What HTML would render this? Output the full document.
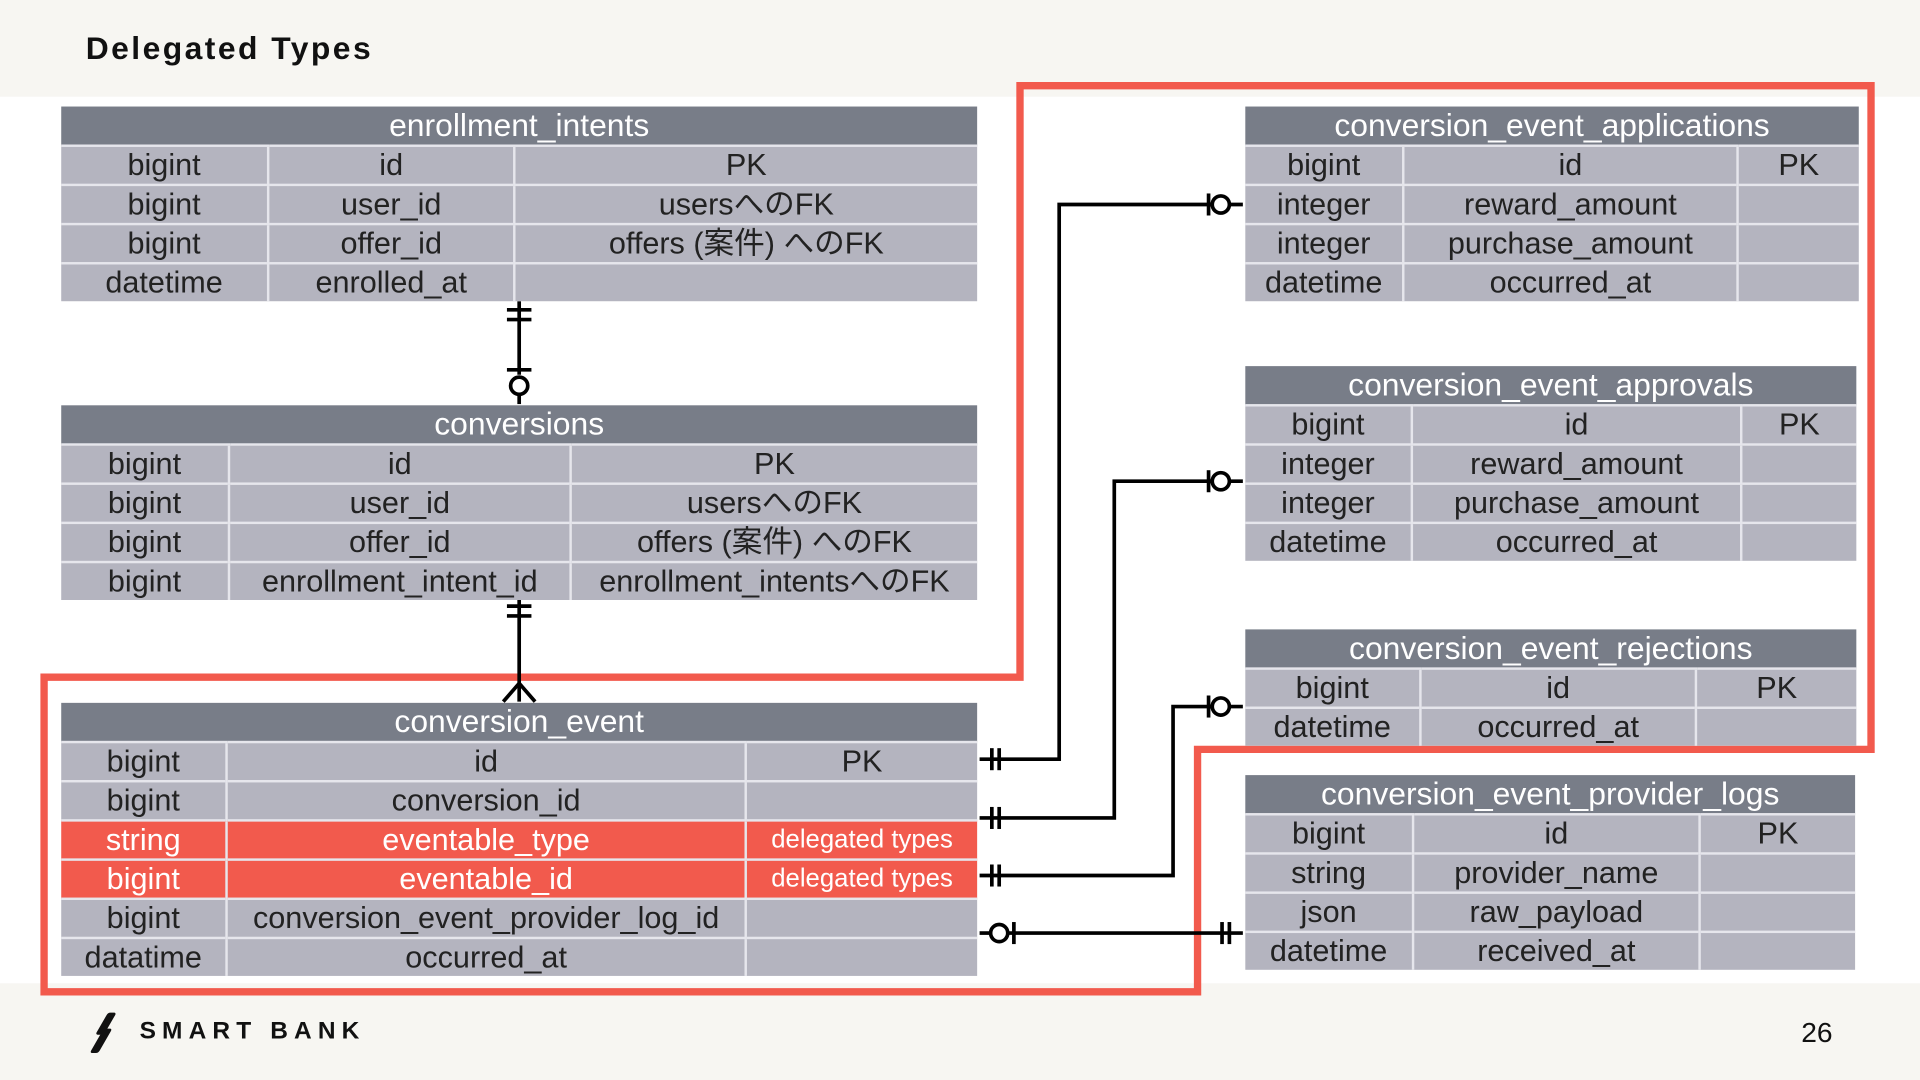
<!DOCTYPE html>
<html><head><meta charset="utf-8"><style>
html,body{margin:0;padding:0;width:1920px;height:1080px;overflow:hidden;background:#fff}
#s{position:absolute;left:0;top:0;width:1568px;height:882px;transform:scale(1.22449);transform-origin:0 0;font-family:"Liberation Sans","Noto Sans CJK JP",sans-serif}
.band{position:absolute;left:0;width:1568px;background:#f7f6f2}
table{position:absolute;border-collapse:collapse;table-layout:fixed;font-size:25px;color:#222}
th{background:#787d88;color:#fff;font-weight:normal;height:31px;padding:0;text-align:center;font-size:26px;line-height:31px;white-space:nowrap}
td{background:#b4b4bf;height:30px;padding:0;text-align:center;border-top:2px solid #e6e6ec;border-left:2px solid #e6e6ec;white-space:nowrap;overflow:visible;line-height:30px}
td:first-child{border-left:none}
tr.r td{background:#f25a4d;color:#fff}
.sm{font-size:21px}
</style></head><body><div id="s">
<div class="band" style="top:0;height:79px"></div>
<div class="band" style="top:803px;height:79px"></div>
<div style="position:absolute;left:70px;top:24px;font-size:26px;letter-spacing:2px;color:#111;font-weight:bold">Delegated Types</div>
<div style="position:absolute;left:1471px;top:830px;font-size:23px;color:#111">26</div>
<div style="position:absolute;left:83px;top:827px;width:7px;height:18px;background:#111;transform:skewX(-30deg);border-radius:2px"></div>
<div style="position:absolute;left:79px;top:840px;width:7px;height:20px;background:#111;transform:skewX(-30deg);border-radius:2px"></div>
<div style="position:absolute;left:114px;top:831px;font-size:20px;font-weight:bold;letter-spacing:5px;color:#111">SMART BANK</div>

<svg style="position:absolute;left:0;top:0" width="1568" height="882">
<path d="M36 553 H833 V70 H1528 V612 H978 V810 H36 Z" fill="none" stroke="#f25a4d" stroke-width="6"/>
<g stroke="#000" stroke-width="3" fill="#fff">
<line x1="424" y1="246" x2="424" y2="306"/>
<line x1="414" y1="253" x2="434" y2="253"/><line x1="414" y1="261" x2="434" y2="261"/>
<line x1="414" y1="302" x2="434" y2="302"/>
<circle cx="424" cy="315" r="7"/>
<line x1="424" y1="322" x2="424" y2="330"/>
<line x1="424" y1="490" x2="424" y2="573"/>
<line x1="414" y1="495" x2="434" y2="495"/><line x1="414" y1="503" x2="434" y2="503"/>
<line x1="424" y1="558" x2="411" y2="573"/><line x1="424" y1="558" x2="437" y2="573"/>
<polyline fill="none" points="800,620 865,620 865,167 1015,167"/>
<line x1="810" y1="611" x2="810" y2="629"/><line x1="816" y1="611" x2="816" y2="629"/>
<line x1="987" y1="158" x2="987" y2="176"/><circle cx="997" cy="167" r="7"/>
<polyline fill="none" points="800,668 910,668 910,393 1015,393"/>
<line x1="810" y1="659" x2="810" y2="677"/><line x1="816" y1="659" x2="816" y2="677"/>
<line x1="987" y1="384" x2="987" y2="402"/><circle cx="997" cy="393" r="7"/>
<polyline fill="none" points="800,715 958,715 958,577 1015,577"/>
<line x1="810" y1="706" x2="810" y2="724"/><line x1="816" y1="706" x2="816" y2="724"/>
<line x1="987" y1="568" x2="987" y2="586"/><circle cx="997" cy="577" r="7"/>
<line x1="800" y1="762" x2="809" y2="762"/>
<line x1="823" y1="762" x2="1015" y2="762"/>
<circle cx="816" cy="762" r="7"/>
<line x1="828" y1="753" x2="828" y2="771"/>
<line x1="998" y1="753" x2="998" y2="771"/><line x1="1004" y1="753" x2="1004" y2="771"/>
</g>
</svg>

<table style="left:50px;top:87px;width:748px">
<colgroup><col style="width:169px"><col style="width:201px"><col></colgroup>
<tr><th colspan="3">enrollment_intents</th></tr>
<tr><td>bigint</td><td>id</td><td>PK</td></tr>
<tr><td>bigint</td><td>user_id</td><td>usersへのFK</td></tr>
<tr><td>bigint</td><td>offer_id</td><td>offers (案件) へのFK</td></tr>
<tr><td>datetime</td><td>enrolled_at</td><td></td></tr>
</table>

<table style="left:50px;top:331px;width:748px">
<colgroup><col style="width:137px"><col style="width:279px"><col></colgroup>
<tr><th colspan="3">conversions</th></tr>
<tr><td>bigint</td><td>id</td><td>PK</td></tr>
<tr><td>bigint</td><td>user_id</td><td>usersへのFK</td></tr>
<tr><td>bigint</td><td>offer_id</td><td>offers (案件) へのFK</td></tr>
<tr><td>bigint</td><td>enrollment_intent_id</td><td>enrollment_intentsへのFK</td></tr>
</table>

<table style="left:50px;top:574px;width:748px">
<colgroup><col style="width:135px"><col style="width:424px"><col></colgroup>
<tr><th colspan="3">conversion_event</th></tr>
<tr><td>bigint</td><td>id</td><td>PK</td></tr>
<tr><td>bigint</td><td>conversion_id</td><td></td></tr>
<tr class="r"><td>string</td><td>eventable_type</td><td class="sm">delegated types</td></tr>
<tr class="r"><td>bigint</td><td>eventable_id</td><td class="sm">delegated types</td></tr>
<tr><td>bigint</td><td>conversion_event_provider_log_id</td><td></td></tr>
<tr><td>datatime</td><td>occurred_at</td><td></td></tr>
</table>

<table style="left:1017px;top:87px;width:501px">
<colgroup><col style="width:129px"><col style="width:273px"><col></colgroup>
<tr><th colspan="3">conversion_event_applications</th></tr>
<tr><td>bigint</td><td>id</td><td>PK</td></tr>
<tr><td>integer</td><td>reward_amount</td><td></td></tr>
<tr><td>integer</td><td>purchase_amount</td><td></td></tr>
<tr><td>datetime</td><td>occurred_at</td><td></td></tr>
</table>

<table style="left:1017px;top:299px;width:499px">
<colgroup><col style="width:136px"><col style="width:269px"><col></colgroup>
<tr><th colspan="3">conversion_event_approvals</th></tr>
<tr><td>bigint</td><td>id</td><td>PK</td></tr>
<tr><td>integer</td><td>reward_amount</td><td></td></tr>
<tr><td>integer</td><td>purchase_amount</td><td></td></tr>
<tr><td>datetime</td><td>occurred_at</td><td></td></tr>
</table>

<table style="left:1017px;top:514px;width:499px">
<colgroup><col style="width:143px"><col style="width:225px"><col></colgroup>
<tr><th colspan="3">conversion_event_rejections</th></tr>
<tr><td>bigint</td><td>id</td><td>PK</td></tr>
<tr><td>datetime</td><td>occurred_at</td><td></td></tr>
</table>

<table style="left:1017px;top:633px;width:498px">
<colgroup><col style="width:137px"><col style="width:234px"><col></colgroup>
<tr><th colspan="3">conversion_event_provider_logs</th></tr>
<tr><td>bigint</td><td>id</td><td>PK</td></tr>
<tr><td>string</td><td>provider_name</td><td></td></tr>
<tr><td>json</td><td>raw_payload</td><td></td></tr>
<tr><td>datetime</td><td>received_at</td><td></td></tr>
</table>
</div></body></html>
